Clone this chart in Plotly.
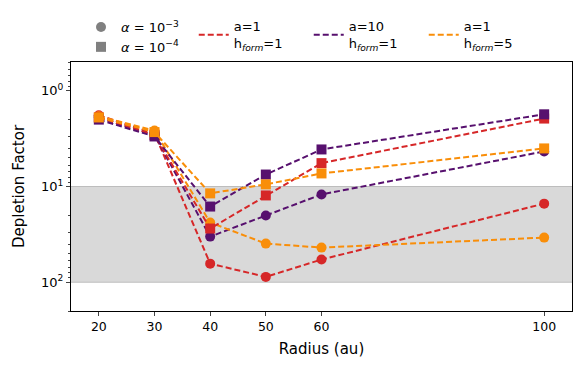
import numpy as np
import plotly.graph_objects as go

# radii (au) and depletion factors
radius = [20, 30, 40, 50, 60, 100]

# a=1, h_form=1
red_a3 = [1.8, 2.8, 64, 88, 58, 15.1]
red_a4 = [1.9, 2.9, 27.5, 12.4, 5.7, 1.95]
# a=10, h_form=1
purple_a3 = [1.9, 2.9, 33.4, 20.1, 12.1, 4.3]
purple_a4 = [2.0, 3.0, 16.2, 7.5, 4.1, 1.76]
# a=1, h_form=5
orange_a3 = [1.85, 2.6, 23.8, 39.5, 43.5, 34.2]
orange_a4 = [1.9, 2.7, 11.8, 9.5, 7.3, 4.0]

RED = '#d62728'
PURPLE = '#57106e'
ORANGE = '#f98e09'
FONT = 'DejaVu Sans'

models = [
    (red_a3, red_a4, RED, 'a=1<br>h<sub><i>form</i></sub>=1'),
    (purple_a3, purple_a4, PURPLE, 'a=10<br>h<sub><i>form</i></sub>=1'),
    (orange_a3, orange_a4, ORANGE, 'a=1<br>h<sub><i>form</i></sub>=5'),
]

fig = go.Figure()

# shaded band between depletion 10 and 100
fig.add_hrect(y0=10, y1=100, fillcolor='#d9d9d9', opacity=1, layer='below',
              line_width=0)
for yv in [10, 100]:
    fig.add_hline(y=yv, line_color='#bdbdbd', line_width=1, layer='below')

for a3, a4, col, lab in models:
    fig.add_trace(go.Scatter(x=radius, y=a3, mode='lines+markers',
                             line=dict(color=col, width=2, dash='6px,3px'),
                             marker=dict(symbol='circle', size=10, color=col),
                             showlegend=False))
for a3, a4, col, lab in models:
    fig.add_trace(go.Scatter(x=radius, y=a4, mode='lines+markers',
                             line=dict(color=col, width=2, dash='6px,3px'),
                             marker=dict(symbol='square', size=10, color=col),
                             showlegend=False))

# legend entries: alpha markers
fig.add_trace(go.Scatter(x=[None], y=[None], mode='markers',
                         marker=dict(symbol='circle', size=10, color='gray'),
                         name='<i>α</i> = 10<sup>−3</sup>', legend='legend'))
fig.add_trace(go.Scatter(x=[None], y=[None], mode='markers',
                         marker=dict(symbol='square', size=10, color='gray'),
                         name='<i>α</i> = 10<sup>−4</sup>', legend='legend'))
# legend entries: models
for a3, a4, col, lab in models:
    fig.add_trace(go.Scatter(x=[None], y=[None], mode='lines',
                             line=dict(color=col, width=2, dash='6px,3px'),
                             name=lab, legend='legend2'))

# the page body adds an 8px offset, so margins are trimmed by that
fig.update_layout(
    width=582, height=369,
    margin=dict(l=63, r=18, t=54, b=66, autoexpand=False),
    plot_bgcolor='white', paper_bgcolor='white',
    font=dict(family=FONT, size=12.5, color='black'),
    legend=dict(x=0.02, y=1.0, xanchor='left', yanchor='bottom',
                orientation='v', tracegroupgap=0, itemwidth=30,
                bgcolor='rgba(0,0,0,0)', font=dict(size=13)),
    legend2=dict(x=0.245, y=1.015, xanchor='left', yanchor='bottom',
                 orientation='h', itemwidth=30, entrywidth=70,
                 bgcolor='rgba(0,0,0,0)', font=dict(size=13)),
)
fig.update_xaxes(range=[15, 105], tickvals=radius, ticks='outside',
                 ticklen=4, showgrid=False, zeroline=False, showline=True,
                 linecolor='black', linewidth=1, mirror=True,
                 tickfont=dict(size=12.5),
                 title_text='Radius (au)', title_standoff=10)
fig.update_yaxes(type='log', range=[np.log10(200), np.log10(0.5)],
                 tickvals=[1, 10, 100],
                 ticktext=['10<sup>0</sup>', '10<sup>1</sup>', '10<sup>2</sup>'],
                 ticks='outside', ticklen=4, showgrid=False, zeroline=False,
                 showline=True, linecolor='black', linewidth=1, mirror=True,
                 tickfont=dict(size=13),
                 minor=dict(ticks='outside', ticklen=2, showgrid=False,
                            tickvals=[0.5, 0.6, 0.7, 0.8, 0.9, 2, 3, 4, 5, 6, 7, 8, 9,
                                      20, 30, 40, 50, 60, 70, 80, 90, 200]),
                 title_text='Depletion Factor', title_standoff=12)

fig.write_html('out.html')
